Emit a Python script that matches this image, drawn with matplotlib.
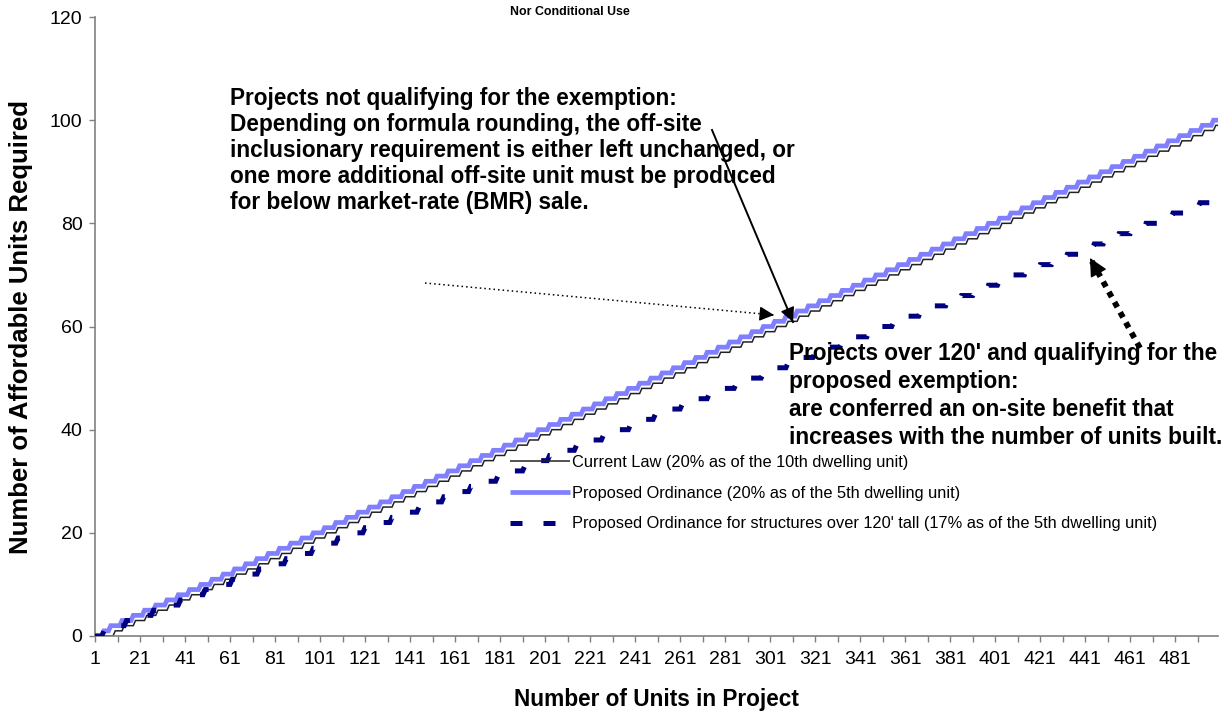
import numpy as np
import matplotlib.pyplot as plt

plt.rcParams['font.family'] = ['Liberation Sans', 'DejaVu Sans']

# units in project (x axis categories)
units = np.arange(1, 501)

# unit count at which one more affordable unit is required (one entry per added unit)
current_law_steps = [10, 14, 19, 24, 29, 34, 39, 44, 49, 54, 59, 64, 69, 74, 79, 84, 89, 94, 99,
                     104, 109, 114, 119, 124, 129, 134, 139, 144, 149, 154, 159, 164, 169, 174, 179, 184, 189, 194, 199,
                     204, 209, 214, 219, 224, 229, 234, 239, 244, 249, 254, 259, 264, 269, 274, 279, 284, 289, 294, 299,
                     304, 309, 314, 319, 324, 329, 334, 339, 344, 349, 354, 359, 364, 369, 374, 379, 384, 389, 394, 399,
                     404, 409, 414, 419, 424, 429, 434, 439, 444, 449, 454, 459, 464, 469, 474, 479, 484, 489, 494, 499]

proposed_steps = [5, 8, 13, 18, 23, 28, 33, 38, 43, 48, 53, 58, 63, 68, 73, 78, 83, 88, 93, 98,
                  103, 108, 113, 118, 123, 128, 133, 138, 143, 148, 153, 158, 163, 168, 173, 178, 183, 188, 193, 198,
                  203, 208, 213, 218, 223, 228, 233, 238, 243, 248, 253, 258, 263, 268, 273, 278, 283, 288, 293, 298,
                  303, 308, 313, 318, 323, 328, 333, 338, 343, 348, 353, 358, 363, 368, 373, 378, 383, 388, 393, 398,
                  403, 408, 413, 418, 423, 428, 433, 438, 443, 448, 453, 458, 463, 468, 473, 478, 483, 488, 493, 498]

tall_steps = [5, 9, 15, 21, 27, 33, 39, 45, 50, 56, 62, 68, 74, 80, 86, 92, 98,
              103, 109, 115, 121, 127, 133, 139, 145, 150, 156, 162, 168, 174, 180, 186, 192, 198,
              203, 209, 215, 221, 227, 233, 239, 245, 250, 256, 262, 268, 274, 280, 286, 292, 298,
              303, 309, 315, 321, 327, 333, 339, 345, 350, 356, 362, 368, 374, 380, 386, 392, 398,
              403, 409, 415, 421, 427, 433, 439, 445, 450, 456, 462, 468, 474, 480, 486, 492, 498]

series_labels = ['Current Law (20% as of the 10th dwelling unit)',
                 'Proposed Ordinance (20% as of the 5th dwelling unit)',
                 "Proposed Ordinance for structures over 120' tall (17% as of the 5th dwelling unit)"]

x_tick_labels = [1, 21, 41, 61, 81, 101, 121, 141, 161, 181, 201, 221, 241, 261,
                 281, 301, 321, 341, 361, 381, 401, 421, 441, 461, 481]
x_minor_ticks = [11, 31, 51, 71, 91, 111, 131, 151, 171, 191, 211, 231, 251, 271,
                 291, 311, 331, 351, 371, 391, 411, 431, 451, 471, 491]
y_ticks = [0, 20, 40, 60, 80, 100, 120]

current_law = np.searchsorted(current_law_steps, units, side='right')
proposed = np.searchsorted(proposed_steps, units, side='right')
tall = np.searchsorted(tall_steps, units, side='right')

W, H = 1232, 713


def px(x, y):
    # pixel position (from top-left) -> figure fraction
    return (x / W, 1 - y / H)


def arrow(tail, tip, lw, style, head):
    # shaft as a plain line, head drawn solid on top
    t0, t1 = px(*tail), px(*tip)
    fig.add_artist(plt.Line2D([t0[0], t1[0]], [t0[1], t1[1]], transform=fig.transFigure,
                              color='black', lw=lw, linestyle=style, dash_capstyle='butt'))
    d = np.array(tip, float) - np.array(tail, float)
    d = d / np.hypot(*d)
    base = px(*(np.array(tip, float) - d * 2))
    fig.add_artist(plt.matplotlib.patches.FancyArrowPatch(
        base, t1, transform=fig.transFigure, arrowstyle='-|>', color='black', lw=1,
        mutation_scale=head, shrinkA=0, shrinkB=0))


fig = plt.figure(figsize=(W / 100, H / 100), dpi=100)
ax = fig.add_axes([95 / W, 1 - 636 / H, (1218 - 95) / W, (636 - 17) / H])

ax.plot(units, current_law, color='#222222', lw=1.1, label=series_labels[0], zorder=2,
        solid_joinstyle='miter', solid_capstyle='butt')
ax.plot(units, proposed, color='#8080ff', lw=3.4, label=series_labels[1], zorder=3,
        solid_joinstyle='miter', solid_capstyle='butt')
ax.plot(units, tall, color='#000080', lw=3.6, dashes=(2.4, 4.2), dash_capstyle='butt',
        dash_joinstyle='miter', label=series_labels[2], zorder=4)

ax.set_xlim(1, 500)
ax.set_ylim(0, 120)
ax.set_xticks(x_tick_labels)
ax.set_xticks(x_minor_ticks, minor=True)
ax.set_yticks(y_ticks)
ax.tick_params(axis='both', which='both', direction='out', length=4, width=1,
               color='#808080', labelsize=14, pad=5)
ax.tick_params(axis='x', pad=7)
for s in ['top', 'right']:
    ax.spines[s].set_visible(False)
for s in ['left', 'bottom']:
    ax.spines[s].set_color('#808080')
    ax.spines[s].set_linewidth(1.2)

ax.set_xlabel('Number of Units in Project', fontsize=16.3, fontweight='bold', labelpad=14)
ax.set_ylabel('Number of Affordable Units Required', fontsize=18.5, fontweight='bold', labelpad=12)

fig.text(570 / W, 1 - 12 / H, 'Nor Conditional Use', fontsize=8.9, fontweight='bold',
         ha='center', va='center')

ax.legend(loc='upper left', bbox_to_anchor=px(510, 455), bbox_transform=fig.transFigure,
          frameon=False, fontsize=11.8, handlelength=3.66, handletextpad=0.12,
          labelspacing=0.96, borderpad=0, borderaxespad=0)

left_note = ("Projects not qualifying for the exemption:\n"
             "Depending on formula rounding, the off-site\n"
             "inclusionary requirement is either left unchanged, or\n"
             "one more additional off-site unit must be produced\n"
             "for below market-rate (BMR) sale.")
fig.text(*px(230, 87), left_note, fontsize=16.3, fontweight='bold', ha='left', va='top',
         linespacing=1.17)

right_note = ("Projects over 120' and qualifying for the\n"
              "proposed exemption:\n"
              "are conferred an on-site benefit that\n"
              "increases with the number of units built.")
fig.text(*px(789, 342), right_note, fontsize=16.3, fontweight='bold', ha='left', va='top',
         linespacing=1.27)

arrow((712, 130), (793, 322), 1.4, '-', 22)
arrow((425, 283), (774, 315), 1.1, (0, (1, 2)), 22)
arrow((1140, 348), (1090, 258), 4.2, (0, (1, 1)), 28)

fig.savefig('out.png', dpi=100)
